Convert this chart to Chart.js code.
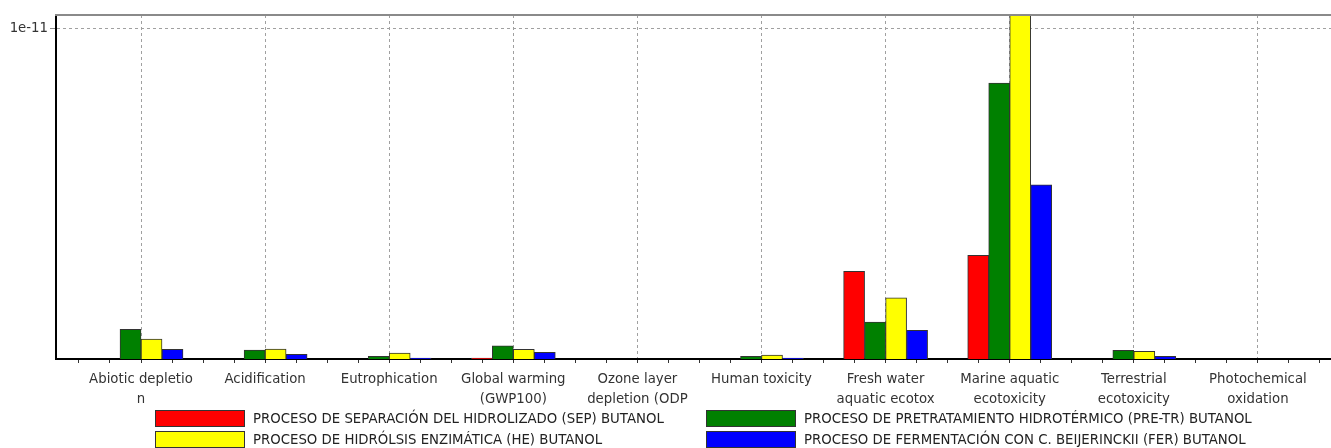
<!DOCTYPE html>
<html>
<head>
<meta charset="utf-8">
<script src="https://cdn.jsdelivr.net/npm/chart.js@4.4.1/dist/chart.umd.min.js"></script>
<style>
  html, body { margin: 0; padding: 0; background: #fff; }
  #wrap { position: relative; width: 1331px; height: 448px; overflow: hidden; }
  #c { position: absolute; left: 0; top: 0; }
  .leg { position: absolute; font-family: "DejaVu Sans", sans-serif; font-size: 13.3px; color: #222; white-space: nowrap; }
  .sw { position: absolute; width: 88px; height: 15px; border: 1px solid #333; }
  .lt { position: absolute; line-height: 17px; }
</style>
</head>
<body>
<div id="wrap">
  <canvas id="c" width="1331" height="448"></canvas>
  <div id="legend"></div>
</div>
<script>
// ---- data ----
const categories = [
  ["Abiotic depletio", "n"],
  "Acidification",
  "Eutrophication",
  ["Global warming", "(GWP100)"],
  ["Ozone layer", "depletion (ODP"],
  "Human toxicity",
  ["Fresh water", "aquatic ecotox"],
  ["Marine aquatic", "ecotoxicity"],
  ["Terrestrial", "ecotoxicity"],
  ["Photochemical", "oxidation"]
];
const seriesNames = [
  "PROCESO DE SEPARACIÓN DEL HIDROLIZADO (SEP) BUTANOL",
  "PROCESO DE PRETRATAMIENTO HIDROTÉRMICO (PRE-TR) BUTANOL",
  "PROCESO DE HIDRÓLSIS ENZIMÁTICA (HE) BUTANOL",
  "PROCESO DE FERMENTACIÓN CON C. BEIJERINCKII (FER) BUTANOL"
];
const sepValues   = [0, 0, 0, 0.003e-11, 0, 0, 0.265e-11, 0.314e-11, 0, 0];
const pretrValues = [0.090e-11, 0.027e-11, 0.008e-11, 0.040e-11, 0, 0.008e-11, 0.112e-11, 0.835e-11, 0.026e-11, 0];
const heValues    = [0.0605e-11, 0.030e-11, 0.018e-11, 0.029e-11, 0, 0.012e-11, 0.185e-11, 1.06e-11, 0.023e-11, 0];
const ferValues   = [0.029e-11, 0.014e-11, 0.003e-11, 0.020e-11, 0, 0.003e-11, 0.087e-11, 0.527e-11, 0.008e-11, 0];
const yTicks = [1e-11];
const yTickLabels = ["1e-11"];
const seriesColors = ["#ff0000", "#008000", "#ffff00", "#0000ff"];

// ---- build ----
const allValues = [sepValues, pretrValues, heValues, ferValues];
const datasets = allValues.map((vals, s) => ({
  label: seriesNames[s],
  data: vals.map((v, i) => ({ x: i, y: v })),
  backgroundColor: seriesColors[s],
  borderColor: "#333",
  borderWidth: 1,
  borderSkipped: "start",
  barThickness: 21
}));

const FONT = { family: "DejaVu Sans", size: 13.3, lineHeight: 1.5 };

const topLine = {
  id: "topLine",
  afterDraw(chart) {
    const { ctx, chartArea } = chart;
    ctx.save();
    ctx.strokeStyle = "#8a8a8a";
    ctx.lineWidth = 2;
    ctx.beginPath();
    ctx.moveTo(chartArea.left - 1, chartArea.top);
    ctx.lineTo(chartArea.right, chartArea.top);
    ctx.stroke();
    ctx.restore();
  }
};

new Chart(document.getElementById("c"), {
  type: "bar",
  data: { datasets },
  plugins: [topLine],
  options: {
    responsive: false,
    animation: false,
    layout: { padding: { top: 15, right: 0, left: 0, bottom: 39 } },
    plugins: { legend: { display: false }, tooltip: { enabled: false } },
    scales: {
      x: {
        type: "linear",
        offset: false,
        min: -0.685,
        max: 9.589,
        grid: {
          offset: false,
          color: (ctx) => (ctx.tick && Number.isInteger(ctx.tick.value)) ? "#a0a0a0" : "rgba(0,0,0,0)",
          lineWidth: 1,
          tickColor: "#333",
          tickLength: 4,
          tickBorderDash: []
        },
        border: { color: "#000", width: 2, dash: [3, 3] },
        ticks: {
          stepSize: 0.25,
          includeBounds: false,
          autoSkip: false,
          maxRotation: 0,
          minRotation: 0,
          padding: 7,
          color: "#333",
          font: FONT,
          callback: (v) => Number.isInteger(v) && v >= 0 && v < categories.length ? categories[v] : ""
        },
        afterFit: (scale) => { scale.height = 50; }
      },
      y: {
        min: 0,
        max: 1.0408e-11,
        afterBuildTicks: (scale) => { scale.ticks = yTicks.map(v => ({ value: v })); },
        grid: { color: "#a0a0a0", tickColor: "#8a8a8a", tickLength: 6, lineWidth: 1 },
        border: { color: "#000", width: 2, dash: [3, 3] },
        ticks: {
          padding: 2,
          color: "#333",
          font: FONT,
          callback: (v) => { const k = yTicks.indexOf(v); return k >= 0 ? yTickLabels[k] : ""; }
        },
        afterFit: (scale) => { scale.width = 56; }
      }
    }
  }
});

// ---- legend (HTML) ----
const legend = document.getElementById("legend");
const legPos = [
  { x: 155, y: 410 }, { x: 706, y: 410 },
  { x: 155, y: 431 }, { x: 706, y: 431 }
];
seriesNames.forEach((name, s) => {
  const p = legPos[s];
  const d = document.createElement("div");
  d.className = "leg";
  d.style.left = p.x + "px";
  d.style.top = p.y + "px";
  d.innerHTML = '<div class="sw" style="left:0;top:0;background:' + seriesColors[s] + '"></div>' +
                '<div class="lt" style="left:98px;top:0">' + name + '</div>';
  legend.appendChild(d);
});
</script>
</body>
</html>
